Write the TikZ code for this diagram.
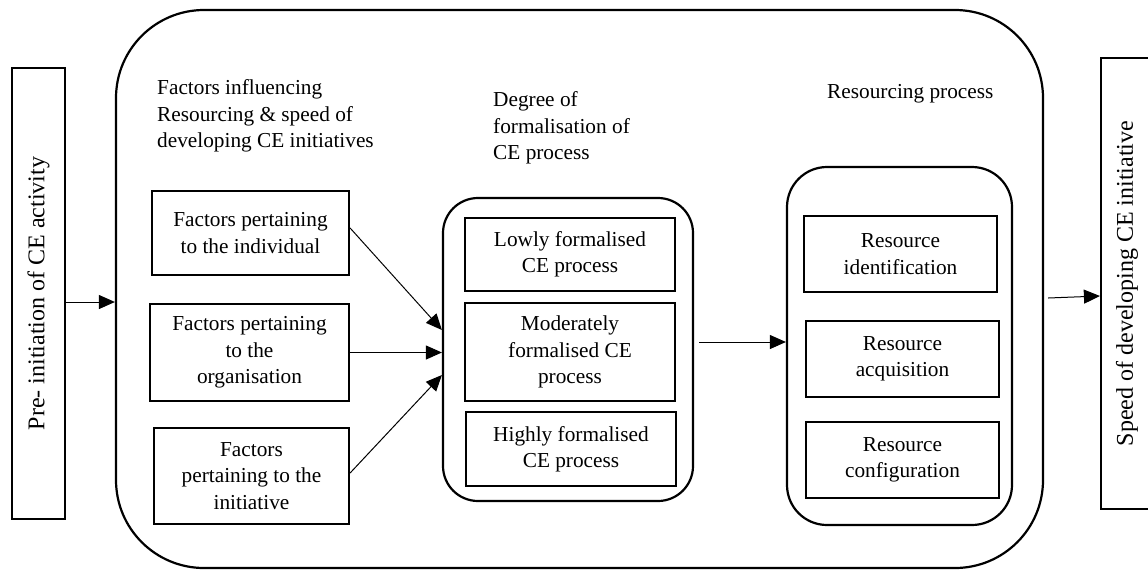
\documentclass[tikz,border=0pt]{standalone}
\usepackage{fontspec}
\setmainfont{Liberation Serif}
\usetikzlibrary{arrows.meta}
\begin{document}
\begin{tikzpicture}[x=1pt,y=-1pt,
  font=\fontsize{21.3}{26.3}\selectfont,
  box/.style={draw, line width=2.2pt, align=center, inner sep=0pt},
  heading/.style={align=left, anchor=west, inner sep=0pt},
  sidelabel/.style={font=\fontsize{24}{28}\selectfont},
  arr/.style={line width=1pt, -{Triangle[length=16pt,width=14pt]}}]
\useasboundingbox (0,0) rectangle (1148,571);
\clip (0,0) rectangle (1148,571);

% outer frame and the two side boxes
\node[box, rounded corners=88pt, minimum width=927pt, minimum height=558pt] (outer) at (579.5,289) {};
\node[box, sidelabel, minimum width=53pt, minimum height=451pt] (pre) at (38.5,293.5)
  {\rotatebox{90}{Pre- initiation of CE activity}};
\node[box, sidelabel, minimum width=52pt, minimum height=451pt] (speed) at (1127,283.5)
  {\rotatebox{90}{Speed of developing CE initiative}};

% column headings
\node[heading] (t1) at (157,116) {Factors influencing\\Resourcing \& speed of\\developing CE initiatives};
\node[heading] (t2) at (493,128) {Degree of\\formalisation of\\CE process};
\node[heading] (t3) at (827,94) {Resourcing process};

% influencing factors
\node[box, minimum width=197pt, minimum height=84pt] (f1) at (250.5,233) {Factors pertaining\\to the individual};
\node[box, minimum width=199pt, minimum height=97pt] (f2) at (249.5,352.5) {Factors pertaining\\to the\\organisation};
\node[box, minimum width=195pt, minimum height=96pt] (f3) at (251.5,476) {Factors\\pertaining to the\\initiative};

% degree of formalisation
\node[box, rounded corners=35pt, minimum width=250pt, minimum height=303pt] (mid) at (568,349.5) {};
\node[box, minimum width=210pt, minimum height=73pt] (p1) at (570,254.5) {Lowly formalised\\CE process};
\node[box, minimum width=210pt, minimum height=98pt] (p2) at (570,352) {Moderately\\formalised CE\\process};
\node[box, minimum width=210pt, minimum height=74pt] (p3) at (571,449) {Highly formalised\\CE process};

% resourcing process
\node[box, rounded corners=40pt, minimum width=225pt, minimum height=358pt] (res) at (899.5,346) {};
\node[box, minimum width=193pt, minimum height=76pt] (r1) at (900.5,254) {Resource\\identification};
\node[box, minimum width=193pt, minimum height=76pt] (r2) at (902.5,359) {Resource\\acquisition};
\node[box, minimum width=193pt, minimum height=76pt] (r3) at (902.5,460) {Resource\\configuration};

% connectors
\coordinate (preout) at ([yshift=-8.5pt]pre.east);
\draw[arr] (preout) -- (preout -| outer.west);
\draw[arr] ([yshift=5pt]f1.east) -- ([yshift=19.5pt]mid.west);
\draw[arr] (f2.east) -- (f2.east -| mid.west);
\draw[arr] ([yshift=3pt]f3.east) -- ([yshift=-25.5pt]mid.west);
\coordinate (midout) at ([xshift=5pt,yshift=7.5pt]mid.east);
\draw[arr] (midout) -- (midout -| res.west);
\draw[arr] ([xshift=4pt,yshift=-9pt]outer.east) -- ([yshift=-12.5pt]speed.west);
\end{tikzpicture}
\end{document}
